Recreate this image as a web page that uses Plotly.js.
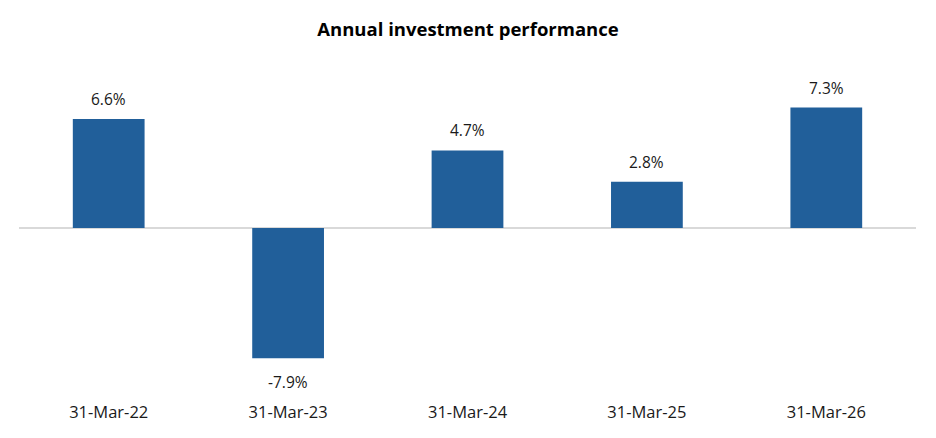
<!DOCTYPE html>
<html>
<head>
<meta charset="utf-8">
<script src="https://cdn.plot.ly/plotly-3.0.1.min.js"></script>
<style>
  html, body { margin: 0; padding: 0; background: #fff; }
  #chart { width: 936px; height: 438px; }
</style>
</head>
<body>
<div id="chart"></div>
<script>
var dates = ['31-Mar-22', '31-Mar-23', '31-Mar-24', '31-Mar-25', '31-Mar-26'];
var returns = [6.6, -7.9, 4.7, 2.8, 7.3];
var returnLabels = ['6.6%', '-7.9%', '4.7%', '2.8%', '7.3%'];

var bars = {
    x: dates,
    y: returns,
    type: 'bar',
    width: 0.4,
    marker: {
        color: '#215f9a'
    },
    hoverinfo: 'none'
};

// labels sit a little away from the bar ends, like Excel does it
var labels = dates.map(function (d, i) {
    return {
        x: d,
        y: returns[i],
        text: returnLabels[i],
        showarrow: false,
        yanchor: returns[i] >= 0 ? 'bottom' : 'top',
        yshift: returns[i] >= 0 ? 7 : -11,
        font: { family: 'Open Sans, sans-serif', size: 15.5, color: '#1a1a1a' }
    };
});

var layout = {
    width: 936,
    height: 438,
    margin: { l: 19, r: 20, t: 60, b: 43 },
    title: {
        text: '<b>Annual investment performance</b>',
        x: 0.5,
        xanchor: 'center',
        y: 0.933,
        yanchor: 'middle',
        font: { family: 'Open Sans, sans-serif', size: 18.5, color: '#000' }
    },
    xaxis: {
        type: 'category',
        showgrid: false,
        zeroline: false,
        showline: false,
        ticks: '',
        ticklabelstandoff: 5,
        tickfont: { family: 'Open Sans, sans-serif', size: 16.5, color: '#1a1a1a' }
    },
    yaxis: {
        range: [-10.12, 10.18],
        showgrid: false,
        zeroline: true,
        zerolinecolor: '#d9d9d9',
        zerolinewidth: 1.5,
        showticklabels: false
    },
    annotations: labels,
    paper_bgcolor: '#fff',
    plot_bgcolor: '#fff',
    showlegend: false,
    bargap: 0.6
};

Plotly.newPlot('chart', [bars], layout, { staticPlot: true, displayModeBar: false });
</script>
</body>
</html>
